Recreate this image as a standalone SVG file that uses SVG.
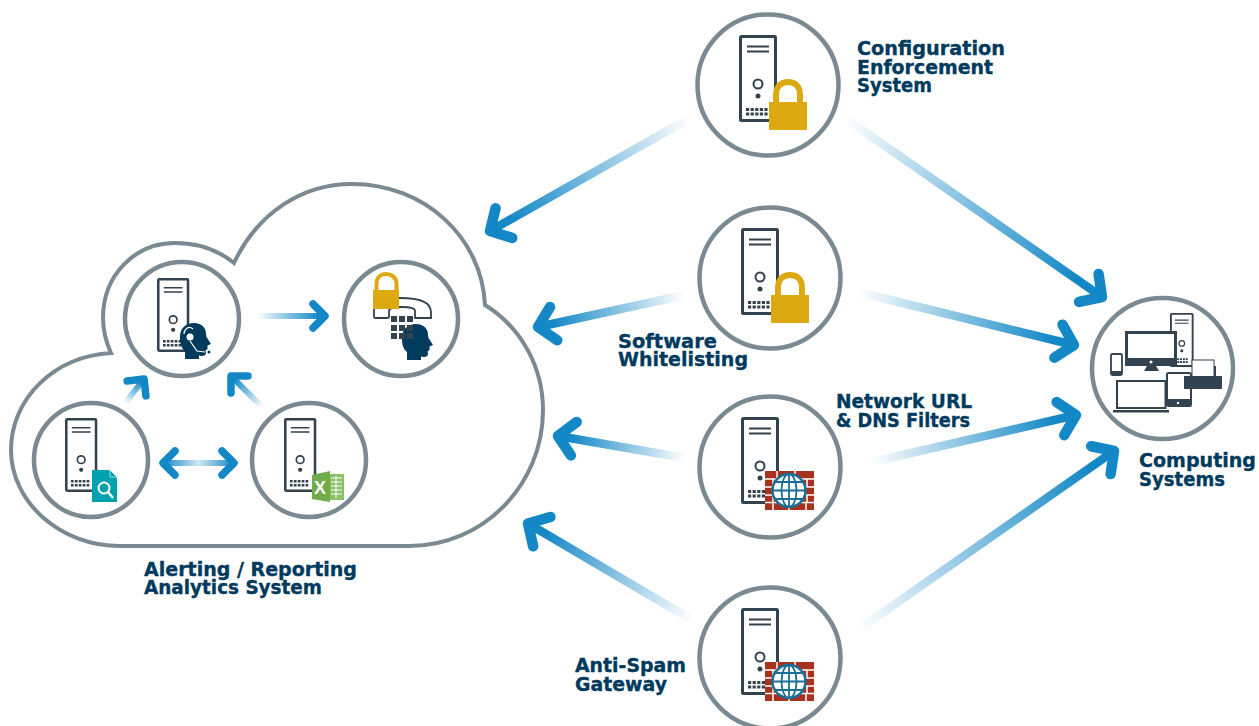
<svg xmlns="http://www.w3.org/2000/svg" xmlns:xlink="http://www.w3.org/1999/xlink" width="1259" height="726" viewBox="0 0 1259 726">
<style>
text{font-family:"DejaVu Sans",Verdana,sans-serif;font-weight:700;font-size:19px;fill:#003a5d;stroke:#003a5d;stroke-width:.35}
.ring{fill:#fff;stroke:#7b8a92;stroke-width:4.5}
.cloud{fill:#fff;stroke:#7b8a92;stroke-width:4}
.big{fill:none;stroke-width:8.5}
.small{fill:none;stroke-width:6}
.dk{fill:#33424f}
.lk{fill:#dcaa10}
</style>
<defs>
<marker id="bigHead" markerUnits="userSpaceOnUse" markerWidth="40" markerHeight="50" refX="23" refY="25" orient="auto-start-reverse" overflow="visible"><path d="M7,8 L23,25 L7,42" fill="none" stroke="#1488c6" stroke-width="10.500" stroke-linecap="round" stroke-linejoin="round"/></marker>
<marker id="smallHead" markerUnits="userSpaceOnUse" markerWidth="24" markerHeight="34" refX="16" refY="17" orient="auto-start-reverse" overflow="visible"><path d="M4,5 L16,17 L4,29" fill="none" stroke="#1488c6" stroke-width="7.500" stroke-linecap="round" stroke-linejoin="round"/></marker>
<g id="server">
<rect x="1.5" y="1.5" width="35" height="84" fill="#fff" stroke="#33424f" stroke-width="3" rx="1"/>
<path d="M8,11.5H30M8,16.5H30" stroke="#33424f" stroke-width="1.8" fill="none"/>
<circle cx="19" cy="49" r="4.5" fill="#fff" stroke="#33424f" stroke-width="2"/>
<circle cx="19" cy="61" r="2.5" fill="#33424f"/>
<path d="M7,73h3.2v3h-3.2zM11.6,73h3.2v3h-3.2zM16.2,73h3.2v3h-3.2zM20.8,73h3.2v3h-3.2zM25.4,73h3.2v3h-3.2zM7,77.5h3.2v3h-3.2zM11.6,77.5h3.2v3h-3.2zM16.2,77.5h3.2v3h-3.2zM20.8,77.5h3.2v3h-3.2zM25.4,77.5h3.2v3h-3.2z" fill="#33424f"/>
</g>
<g id="lock">
<path d="M7,25V16C7,7 12,3 19,3S31,7 31,16V25" fill="none" stroke="#dcaa10" stroke-width="6"/>
<rect y="23" width="38" height="28" class="lk"/>
</g>
<g id="wallglobe">
<rect width="49" height="39" fill="#a8321e"/>
<path d="M0,8H49M0,16H49M0,24H49M0,31.500H49M12,0V8M30,0V8M8,8V16M42,8V16M8,24V31.500M42,24V31.500M8,31.500V39M24,31.500V39M41,31.500V39" stroke="#fff" stroke-width="1.500" fill="none"/>
<circle cx="24" cy="19.500" r="16.500" fill="#fff" stroke="#1a6f96" stroke-width="2.500"/>
<ellipse cx="24" cy="19.500" rx="7.500" ry="16.500" fill="none" stroke="#1a6f96" stroke-width="1.800"/>
<path d="M24,3V36M8,19.500H40M10,11H38M10,28H38" stroke="#1a6f96" stroke-width="1.800" fill="none"/>
</g>
<g id="head"><path d="M13,0C21,0 25,5 25,11L25.500,14L30,21L26.500,22.500L26.500,26L24.500,27.500L25,30C25,33 21,33.500 18,32.500L18,36L4,36L4,28C-1,24 -1,18 -1,14C-1,5 5,0 13,0Z" fill="#003a5d"/></g>
<linearGradient id="a1" gradientUnits="userSpaceOnUse" x1="690" y1="118" x2="490" y2="231"><stop offset="0" stop-color="#fff"/><stop offset=".9" stop-color="#1488c6"/></linearGradient>
<linearGradient id="a2" gradientUnits="userSpaceOnUse" x1="685" y1="295" x2="538" y2="327"><stop offset="0" stop-color="#fff"/><stop offset=".9" stop-color="#1488c6"/></linearGradient>
<linearGradient id="a3" gradientUnits="userSpaceOnUse" x1="685" y1="458" x2="558" y2="436"><stop offset="0" stop-color="#fff"/><stop offset=".9" stop-color="#1488c6"/></linearGradient>
<linearGradient id="a4" gradientUnits="userSpaceOnUse" x1="692" y1="620" x2="528" y2="523.500"><stop offset="0" stop-color="#fff"/><stop offset=".9" stop-color="#1488c6"/></linearGradient>
<linearGradient id="a5" gradientUnits="userSpaceOnUse" x1="845" y1="118" x2="1102" y2="297"><stop offset="0" stop-color="#fff"/><stop offset=".9" stop-color="#1488c6"/></linearGradient>
<linearGradient id="a6" gradientUnits="userSpaceOnUse" x1="858" y1="292" x2="1074" y2="345"><stop offset="0" stop-color="#fff"/><stop offset=".9" stop-color="#1488c6"/></linearGradient>
<linearGradient id="a7" gradientUnits="userSpaceOnUse" x1="872" y1="462" x2="1076" y2="415"><stop offset="0" stop-color="#fff"/><stop offset=".9" stop-color="#1488c6"/></linearGradient>
<linearGradient id="a8" gradientUnits="userSpaceOnUse" x1="858" y1="630" x2="1114" y2="451"><stop offset="0" stop-color="#fff"/><stop offset=".9" stop-color="#1488c6"/></linearGradient>
<linearGradient id="a9" gradientUnits="userSpaceOnUse" x1="257" y1="316" x2="325" y2="316"><stop offset="0" stop-color="#fff"/><stop offset=".9" stop-color="#1488c6"/></linearGradient>
<linearGradient id="a10" gradientUnits="userSpaceOnUse" x1="125" y1="403" x2="144" y2="379"><stop offset="0" stop-color="#fff"/><stop offset=".9" stop-color="#1488c6"/></linearGradient>
<linearGradient id="a11" gradientUnits="userSpaceOnUse" x1="262" y1="407" x2="231" y2="376"><stop offset="0" stop-color="#fff"/><stop offset=".9" stop-color="#1488c6"/></linearGradient>
<linearGradient id="a12" gradientUnits="userSpaceOnUse" x1="163" y1="463" x2="234" y2="463"><stop offset="0" stop-color="#1488c6"/><stop offset=".5" stop-color="#cfe6f4"/><stop offset="1" stop-color="#1488c6"/></linearGradient>
</defs>

<g id="cloud">
<path class="cloud" d="M234,263C258,212 303,184 352,184C425,184 482,238 485,305C522,328 543,368 543,410C543,486 482,546 410,546L120,546C60,546 11,502 11,450C11,398 55,356 111,353C106,342 103,330 103,318C103,275 135,243 175,243C197,243 218,250 234,263Z"/>
</g>

<g id="connectors">
<line x1="690" y1="118" x2="490" y2="231" class="big" stroke="url(#a1)" marker-end="url(#bigHead)"/>
<line x1="685" y1="295" x2="538" y2="327" class="big" stroke="url(#a2)" marker-end="url(#bigHead)"/>
<line x1="685" y1="458" x2="558" y2="436" class="big" stroke="url(#a3)" marker-end="url(#bigHead)"/>
<line x1="692" y1="620" x2="528" y2="523.500" class="big" stroke="url(#a4)" marker-end="url(#bigHead)"/>
<line x1="845" y1="118" x2="1102" y2="297" class="big" stroke="url(#a5)" marker-end="url(#bigHead)"/>
<line x1="858" y1="292" x2="1074" y2="345" class="big" stroke="url(#a6)" marker-end="url(#bigHead)"/>
<line x1="872" y1="462" x2="1076" y2="415" class="big" stroke="url(#a7)" marker-end="url(#bigHead)"/>
<line x1="858" y1="630" x2="1114" y2="451" class="big" stroke="url(#a8)" marker-end="url(#bigHead)"/>
<line x1="257" y1="316" x2="325" y2="316" class="small" stroke="url(#a9)" marker-end="url(#smallHead)"/>
<line x1="125" y1="403" x2="144" y2="379" class="small" stroke="url(#a10)" marker-end="url(#smallHead)"/>
<line x1="262" y1="407" x2="231" y2="376" class="small" stroke="url(#a11)" marker-end="url(#smallHead)"/>
<line x1="163" y1="463" x2="234" y2="463" class="small" stroke="url(#a12)" marker-start="url(#smallHead)" marker-end="url(#smallHead)"/>
</g>

<g id="node-config">
<circle class="ring" cx="768" cy="85" r="70.500"/>
<use xlink:href="#server" href="#server" x="739" y="35"/>
<use xlink:href="#lock" href="#lock" x="769" y="79"/>
<text x="857" y="55" textLength="148" lengthAdjust="spacingAndGlyphs">Configuration</text><text x="857" y="74" textLength="136" lengthAdjust="spacingAndGlyphs">Enforcement</text><text x="857" y="92" textLength="75" lengthAdjust="spacingAndGlyphs">System</text>
</g>
<g id="node-whitelist">
<circle class="ring" cx="770" cy="278" r="70.500"/>
<use xlink:href="#server" href="#server" x="741" y="228"/>
<use xlink:href="#lock" href="#lock" x="771" y="272"/>
<text x="618" y="348" textLength="99" lengthAdjust="spacingAndGlyphs">Software</text><text x="618" y="366" textLength="130" lengthAdjust="spacingAndGlyphs">Whitelisting</text>
</g>
<g id="node-network">
<circle class="ring" cx="770" cy="467" r="70.500"/>
<use xlink:href="#server" href="#server" x="741" y="417"/>
<use xlink:href="#wallglobe" href="#wallglobe" x="765" y="471"/>
<text x="836" y="408" textLength="136" lengthAdjust="spacingAndGlyphs">Network URL</text><text x="836" y="427" textLength="134" lengthAdjust="spacingAndGlyphs">&amp; DNS Filters</text>
</g>
<g id="node-antispam">
<circle class="ring" cx="770" cy="658" r="70.500"/>
<use xlink:href="#server" href="#server" x="741" y="608"/>
<use xlink:href="#wallglobe" href="#wallglobe" x="765" y="662"/>
<text x="575" y="672" textLength="111" lengthAdjust="spacingAndGlyphs">Anti-Spam</text><text x="575" y="691" textLength="92" lengthAdjust="spacingAndGlyphs">Gateway</text>
</g>
<g id="node-computing">
<circle class="ring" cx="1162.500" cy="368.500" r="70.500"/>
<use xlink:href="#server" href="#server" transform="translate(1170,313) scale(.62)"/>
<rect x="1126.500" y="332.500" width="49" height="32" fill="#fff" stroke="#33424f" stroke-width="3"/>
<rect x="1125" y="358" width="52" height="8" class="dk"/>
<path class="dk" d="M1147,366h9l3,5h-15z"/>
<circle cx="1151" cy="362" r="1.500" fill="#fff"/>
<rect x="1111" y="354" width="11" height="21" rx="1.500" fill="#fff" stroke="#33424f" stroke-width="1.800"/>
<path class="dk" d="M1111,371h11v4h-11z"/>
<rect x="1117" y="381" width="48.500" height="27" fill="#fff" stroke="#33424f" stroke-width="2"/>
<rect x="1113" y="410" width="56" height="2.500" class="dk"/>
<rect x="1192" y="360" width="22" height="18" fill="#fff" stroke="#33424f" stroke-width="1"/>
<rect x="1214" y="366" width="2" height="10" class="dk"/>
<rect x="1184" y="376" width="38" height="13" rx="1" class="dk"/>
<rect x="1167" y="373" width="24" height="33" rx="1.500" fill="#fff" stroke="#33424f" stroke-width="2"/>
<rect x="1167" y="399" width="24" height="7" class="dk"/>
<circle cx="1178" cy="403" r="1.200" fill="#fff"/>
<rect x="1184" y="376" width="8" height="13" class="dk"/>
<text x="1139" y="467" textLength="117" lengthAdjust="spacingAndGlyphs">Computing</text><text x="1139" y="486" textLength="86" lengthAdjust="spacingAndGlyphs">Systems</text>
</g>
<g id="node-agent">
<circle class="ring" cx="182" cy="319" r="57"/>
<use xlink:href="#server" href="#server" transform="translate(157,278) scale(.85)"/>
<use xlink:href="#head" href="#head" x="181" y="323"/>
<circle cx="190" cy="337" r="4.500" fill="#fff" stroke="#003a5d" stroke-width="2"/>
<path d="M190,341L197,351L205,352" fill="none" stroke="#fff" stroke-width="1.200"/>
<path d="M193,329C188,325 184,330 184,334" fill="none" stroke="#fff" stroke-width="1.200"/>
<circle cx="209" cy="352" r="1.500" fill="#003a5d"/>
</g>
<g id="node-phone">
<circle class="ring" cx="401" cy="319" r="57"/>
<path d="M374,317V310C374,303 385,298 400,298C420,298 431,303 431,312V318H415V311C415,308 410,307 402,307C394,307 389,308 389,311V317C389,318 388,318 387,318H376C375,318 374,318 374,317Z" fill="#fff" stroke="#33424f" stroke-width="1.800"/>
<use xlink:href="#head" href="#head" x="403" y="324"/>
<path class="dk" d="M391,316h6v6h-6zM399,316h6v6h-6zM407,316h6v6h-6zM391,325h6v6h-6zM399,325h6v6h-6zM407,325h6v6h-6zM391,333h6v6h-6zM399,333h6v6h-6zM407,333h6v6h-6z"/>
<path d="M376.500,292V284C376.500,277 381,274 386,274S396.500,277 396.500,284V292" fill="none" stroke="#dcaa10" stroke-width="4"/>
<rect x="373" y="290" width="26" height="19" class="lk"/>
</g>
<g id="node-search">
<circle class="ring" cx="91" cy="460" r="57"/>
<use xlink:href="#server" href="#server" transform="translate(65,418) scale(.85)"/>
<path d="M92,470H109L117,478V502H92Z" fill="#00a3ad"/>
<path d="M110,470L117,477H110Z" fill="#00a3ad" stroke="#fff" stroke-width=".6"/>
<circle cx="104" cy="488" r="5.500" fill="none" stroke="#fff" stroke-width="2"/>
<path d="M108,492L113,498" stroke="#fff" stroke-width="2.500" fill="none"/>
</g>
<g id="node-excel">
<circle class="ring" cx="309" cy="460" r="57"/>
<use xlink:href="#server" href="#server" transform="translate(284,418) scale(.85)"/>
<rect x="329" y="474" width="15" height="26" fill="#8cc068"/>
<path d="M331,478H342M331,482H342M331,486H342M331,490H342M331,494H342M336,476V498" stroke="#fff" stroke-width="1" fill="none"/>
<path d="M312,475L330,471V502L312,499Z" fill="#70ad47"/>
<text x="314" y="494" style="font-size:18px;fill:#fff;stroke:none;font-family:'Liberation Sans',sans-serif">X</text>
</g>
<g id="label-alerting"><text x="144" y="576" textLength="213" lengthAdjust="spacingAndGlyphs">Alerting / Reporting</text><text x="144" y="594" textLength="178" lengthAdjust="spacingAndGlyphs">Analytics System</text></g>
</svg>
